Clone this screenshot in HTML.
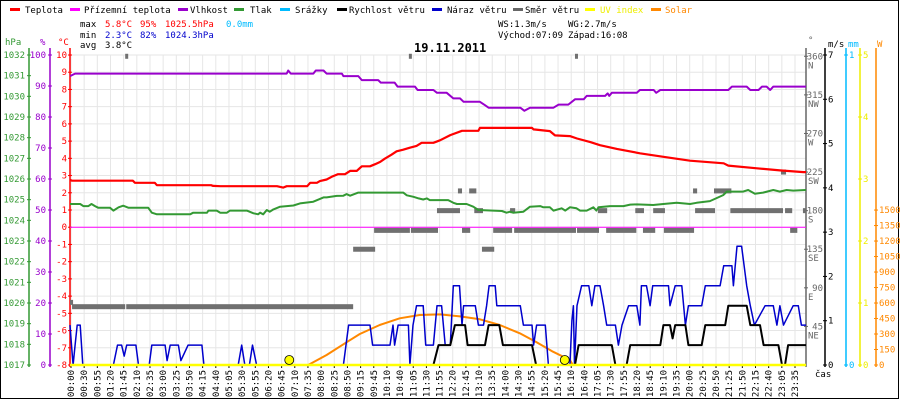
<!DOCTYPE html>
<html><head><meta charset="utf-8"><style>
html,body{margin:0;padding:0;background:#fff;}
svg{display:block;font-family:"DejaVu Sans Mono","Liberation Mono",monospace;}
</style></head><body>
<svg id="chart" width="900" height="400" viewBox="0 0 900 400" xmlns="http://www.w3.org/2000/svg">
<rect x="0.5" y="0.5" width="898" height="398" fill="#fff" stroke="#000"/>
<g id="grid"></g>
<g id="legend" font-size="9">
 <g><rect x="10" y="8" width="10" height="3" fill="#f00"/><text x="25" y="13">Teplota</text></g>
 <g><rect x="70" y="8" width="10" height="3" fill="#f0f"/><text x="84" y="13">Přízemní teplota</text></g>
 <g><rect x="178" y="8" width="10" height="3" fill="#90c"/><text x="190" y="13">Vlhkost</text></g>
 <g><rect x="234" y="8" width="10" height="3" fill="#393"/><text x="250" y="13">Tlak</text></g>
 <g><rect x="280" y="8" width="10" height="3" fill="#0bf"/><text x="295" y="13">Srážky</text></g>
 <g><rect x="337" y="8" width="10" height="3" fill="#000"/><text x="349" y="13">Rychlost větru</text></g>
 <g><rect x="432" y="8" width="10" height="3" fill="#00c"/><text x="447" y="13">Náraz větru</text></g>
 <g><rect x="513" y="8" width="10" height="3" fill="#666"/><text x="525" y="13">Směr větru</text></g>
 <g><rect x="585" y="8" width="10" height="3" fill="#ff0"/><text x="600" y="13" fill="#ee0">UV index</text></g>
 <g><rect x="651" y="8" width="10" height="3" fill="#f80"/><text x="665" y="13" fill="#f80">Solar</text></g>
</g>
<g id="stats" font-size="9">
 <text x="80" y="27">max</text><text x="105" y="27" fill="#f00">5.8°C</text><text x="140" y="27" fill="#f00">95%</text><text x="165" y="27" fill="#f00">1025.5hPa</text><text x="226" y="27" fill="#0bf">0.0mm</text>
 <text x="80" y="38">min</text><text x="105" y="38" fill="#00c">2.3°C</text><text x="140" y="38" fill="#00c">82%</text><text x="165" y="38" fill="#00c">1024.3hPa</text>
 <text x="80" y="48">avg</text><text x="105" y="48">3.8°C</text>
 <text x="498" y="27">WS:1.3m/s</text><text x="568" y="27">WG:2.7m/s</text>
 <text x="498" y="38">Východ:07:09</text><text x="568" y="38">Západ:16:08</text>
</g>
<text x="414" y="52" font-size="12" font-weight="bold">19.11.2011</text>
<g id="axes"></g>
<g id="series"></g>
</svg>
<script>
// ---- data ----
const xTickLabels = ["00:00","00:30","00:55","01:20","01:45","02:10","02:35","03:00","03:25","03:50","04:15","04:40","05:05","05:30","05:55","06:20","06:45","07:10","07:35","08:00","08:25","08:50","09:15","09:45","10:10","10:40","11:05","11:30","11:55","12:20","12:45","13:10","13:35","14:00","14:30","14:55","15:20","15:45","16:10","16:40","17:05","17:30","17:55","18:20","18:45","19:10","19:35","20:00","20:25","20:50","21:25","21:50","22:15","22:40","23:05","23:35"];
const tempTimes = [0,4,123,127,166,170,276,280,294,405,417,424,464,470,483,489,502,512,524,538,548,561,571,587,597,607,616,629,639,652,665,678,688,711,724,744,767,799,802,904,907,939,949,978,992,1018,1037,1070,1115,1161,1213,1279,1288,1344,1389,1435,1440];
const tempValues = [2.75,2.7,2.7,2.58,2.58,2.44,2.44,2.4,2.38,2.38,2.3,2.38,2.38,2.58,2.58,2.68,2.77,2.93,3.08,3.08,3.27,3.27,3.54,3.54,3.66,3.79,3.98,4.21,4.41,4.5,4.62,4.72,4.9,4.9,5.05,5.35,5.6,5.6,5.77,5.77,5.68,5.58,5.33,5.29,5.15,4.94,4.76,4.55,4.29,4.09,3.86,3.71,3.58,3.42,3.3,3.2,3.2];
const feelTimes = [0,1440];
const feelValues = [0,0];
const humTimes = [0,10,424,427,432,476,481,496,502,532,535,564,571,603,608,635,641,675,680,711,718,737,750,763,770,802,812,819,881,889,900,946,956,975,988,1005,1011,1047,1052,1055,1060,1109,1115,1142,1147,1155,1288,1295,1324,1331,1347,1354,1363,1370,1376,1440];
const humValues = [93.2,94,94,95,94,94,95,95,94,94,93.2,93.2,91.9,91.9,91.1,91.1,89.8,89.8,88.7,88.7,87.8,87.8,86,86,84.9,84.9,83.8,83,83,82,83,83,84,84,85.7,85.7,86.8,86.8,87.6,86.8,87.8,87.8,88.7,88.7,87.8,88.7,88.7,89.8,89.8,88.7,88.7,89.8,89.8,88.7,89.8,89.8];
const presTimes = [0,20,26,36,42,49,55,78,85,95,104,114,153,160,170,235,241,268,271,287,294,307,313,346,359,368,372,378,385,391,398,411,437,450,476,496,502,522,535,541,548,564,652,659,672,682,691,698,704,740,750,757,776,789,799,845,854,861,867,887,900,920,926,939,946,962,969,978,991,998,1011,1024,1030,1034,1057,1083,1096,1109,1141,1161,1187,1213,1226,1252,1278,1285,1317,1327,1340,1356,1376,1389,1402,1415,1440];
const presValues = [1024.79,1024.79,1024.69,1024.69,1024.79,1024.69,1024.61,1024.61,1024.47,1024.63,1024.71,1024.61,1024.61,1024.37,1024.29,1024.29,1024.37,1024.37,1024.47,1024.47,1024.37,1024.37,1024.47,1024.47,1024.34,1024.29,1024.37,1024.29,1024.5,1024.42,1024.53,1024.66,1024.72,1024.82,1024.9,1025.11,1025.11,1025.18,1025.19,1025.27,1025.19,1025.34,1025.34,1025.21,1025.14,1025.06,1025.01,1025.06,1024.98,1024.98,1024.85,1024.79,1024.79,1024.66,1024.5,1024.45,1024.37,1024.42,1024.37,1024.42,1024.66,1024.69,1024.63,1024.63,1024.47,1024.58,1024.47,1024.63,1024.58,1024.47,1024.47,1024.63,1024.47,1024.63,1024.69,1024.69,1024.76,1024.77,1024.74,1024.79,1024.85,1024.79,1024.85,1024.93,1025.22,1025.39,1025.39,1025.47,1025.29,1025.34,1025.47,1025.39,1025.47,1025.44,1025.47];
const gustTimes = [0,3,6,10,14,20,25,85,93,101,106,111,129,134,155,160,186,190,196,212,217,231,258,262,329,336,342,351,357,365,535,545,587,592,626,632,635,642,662,665,671,678,691,696,711,718,727,734,744,750,762,767,770,793,799,809,815,820,832,835,881,887,904,907,913,930,936,978,982,985,987,992,1001,1015,1021,1027,1037,1044,1050,1067,1073,1080,1093,1109,1115,1118,1128,1135,1140,1171,1174,1184,1197,1204,1210,1236,1243,1272,1279,1295,1298,1305,1314,1324,1331,1339,1360,1376,1383,1389,1396,1415,1425,1431,1440];
const gustValues = [0.9,0.45,0,0.45,0.9,0.9,0,0,0.45,0.45,0.2,0.45,0.45,0,0,0.45,0.45,0.1,0.45,0.45,0.1,0.45,0.45,0,0,0.45,0,0,0.45,0,0,0.9,0.9,0.45,0.45,0.9,0.45,0.9,0.9,0,0.9,1.34,1.34,0.45,0.45,1.34,1.34,0.45,0.45,1.79,1.79,0.9,1.34,1.34,0.9,0.9,1.34,1.79,1.79,1.34,1.34,0.9,0.9,0.45,0.9,0.9,0,0,1.0,1.34,0,1.34,1.79,1.79,1.34,1.79,1.79,1.34,0.9,0.9,0.45,0.9,1.34,1.34,0.9,1.79,1.79,1.34,1.79,1.79,1.34,1.79,1.79,0.9,1.34,1.34,1.79,1.79,2.24,2.24,1.79,2.68,2.68,1.79,1.34,0.9,1.34,1.34,0.9,1.34,0.9,1.34,1.34,0.9,0.9];
const windTimes = [0,711,721,744,753,773,778,812,819,840,847,904,912,988,995,1060,1067,1089,1096,1155,1161,1174,1179,1184,1204,1210,1236,1243,1282,1288,1324,1331,1350,1357,1386,1393,1399,1405,1440];
const windValues = [0,0,0.45,0.45,0.9,0.9,0.45,0.45,0.9,0.9,0.45,0.45,0,0,0.45,0.45,0,0,0.45,0.45,0.9,0.9,0.6,0.9,0.9,0.45,0.45,0.9,0.9,1.34,1.34,0.9,0.9,0.45,0.45,0,0,0.45,0.45];
const dirStart = [0,4,110,554,595,667,718,759,767,781,791,806,828,861,869,992,1033,1049,1106,1121,1141,1162,1219,1223,1260,1292,1399,1409,1434,1391,108,663,988];
const dirEnd =   [6,108,554,597,665,720,763,767,783,795,808,830,865,871,990,1035,1051,1108,1123,1145,1164,1221,1227,1262,1294,1395,1413,1423,1440,1401,112,667,992];
const dirValues = [73,68,68,135,157,157,180,203,157,203,180,135,157,180,157,157,180,157,180,157,180,157,203,180,203,180,180,157,180,225,360,360,360];
const solarTimes = [466,502,541,567,606,645,684,724,763,802,841,880,913,945,978,984];
const solarValues = [0,97,220,300,387,452,484,490,470,442,387,307,220,129,48,0];
const uvTimes = [0,1440];
const uvValues = [0,0];
const rainTimes = [0,1440];
const rainValues = [0,0];
const sunEvents = [429,968];
const tempTicks = [10,9,8,7,6,5,4,3,2,1,0,-1,-2,-3,-4,-5,-6,-7,-8];
const presTicks = [1032,1031,1030,1029,1028,1027,1026,1025,1024,1023,1022,1021,1020,1019,1018,1017];
const humTicks = [100,90,80,70,60,50,40,30,20,10,0];
const dirTicks = [360,315,270,225,180,135,90,45];
const dirNames = ["N","NW","W","SW","S","SE","E","NE"];
const msTicks = [7,6,5,4,3,2,1,0];
const uvTicks = [5,4,3,2,1,0];
const wTicks = [1500,1350,1200,1050,900,750,600,450,300,150,0];

// ---- scales ----
const X0=70, X1=806, Y0=55, Y1=365;
const xS = m => X0 + m*(X1-X0)/1440;
const yT = v => Y0 + (10-v)*(Y1-Y0)/18;
const yP = h => Y0 + (1032-h)*(Y1-Y0)/15;
const yH = p => Y0 + (100-p)*(Y1-Y0)/100;
const yD = d => Y1 - d*(Y1-Y0)/361.5;
const yM = v => Y1 - v*(Y1-Y0)/7;
const yU = v => Y1 - v*(Y1-Y0)/5;
const yW = w => Y1 - w*0.1033;
const yR = v => Y1 - v*(Y1-Y0);
const NS="http://www.w3.org/2000/svg";
function mk(tag, attrs, parent, txt){const e=document.createElementNS(NS,tag);for(const k in attrs)e.setAttribute(k,attrs[k]);if(txt!==undefined)e.textContent=txt;parent.appendChild(e);return e;}
const grid=document.getElementById('grid'), axes=document.getElementById('axes'), series=document.getElementById('series');

// grid
tempTicks.forEach(v=>{const l=mk('line',{x1:X0,x2:X1,y1:yT(v),y2:yT(v),stroke:'#e6e6e6','stroke-width':1},grid);

});
const nX = xTickLabels.length;
const xTickPos = i => 71 + i*(795-71)/(nX-1);
xTickLabels.forEach((t,i)=>{const x=xTickPos(i);
const l=mk('line',{x1:x,x2:x,y1:Y0,y2:Y1,stroke:'#e6e6e6','stroke-width':1},grid);


const tk=mk('line',{x1:x,x2:x,y1:Y1,y2:Y1+3,stroke:'#000'},axes);


const tx=mk('text',{x:0,y:0,'font-size':9,'text-anchor':'end',transform:`translate(${x+3},370) rotate(-90)`},axes,t);

});

// left axes
function vAxis(x,color,name){const l=mk('line',{x1:x,x2:x,y1:48,y2:Y1+2,stroke:color,'stroke-width':1.5},axes);

}
vAxis(29,'#393','hpa-axis'); vAxis(50,'#90c','humidity-axis'); vAxis(70,'#f00','celsius-axis');
vAxis(806,'#666','direction-axis'); vAxis(825,'#000','wind-axis'); vAxis(846,'#0bf','rain-axis'); vAxis(860,'#ee0','uv-axis'); vAxis(876,'#f80','solar-axis');
function tickLbl(x,y,anchor,color,txt,name){const t=mk('text',{x:x,y:y+3,'font-size':9,'text-anchor':anchor,fill:color},axes,txt);

}
function tickMark(x,y,color){const t=mk('line',{x1:x-2,x2:x+2,y1:y,y2:y,stroke:color},axes);

}
presTicks.forEach(h=>{tickMark(29,yP(h),'#393');tickLbl(25,yP(h),'end','#393',String(h),'hpa-tick-label');});
humTicks.forEach(p=>{tickMark(50,yH(p),'#90c');tickLbl(46,yH(p),'end','#90c',String(p),'humidity-tick-label');});
tempTicks.forEach(v=>{tickMark(70,yT(v),'#f00');tickLbl(67,yT(v),'end','#f00',String(v),'celsius-tick-label');});
dirTicks.forEach((d,i)=>{tickMark(806,yD(d),'#666');tickLbl(823,yD(d),'end','#666',String(d),'direction-tick-label');tickLbl(808,yD(d)+9,'start','#666',dirNames[i],'direction-name-label');});
msTicks.forEach(v=>{tickMark(825,yM(v),'#000');tickLbl(828,yM(v),'start','#000',String(v),'wind-tick-label');});
[1,0].forEach(v=>{tickMark(846,yR(v),'#0bf');tickLbl(849,yR(v),'start','#0bf',String(v),'rain-tick-label');});
uvTicks.forEach(v=>{tickMark(860,yU(v),'#ee0');tickLbl(863,yU(v),'start','#ee0',String(v),'uv-tick-label');});
wTicks.forEach(v=>{tickMark(876,yW(v),'#f80');tickLbl(879,yW(v),'start','#f80',String(v),'solar-tick-label');});
[[5,45,'#393','hPa'],[40,45,'#90c','%'],[58,45,'#f00','°C'],[808,43,'#666','°'],[828,47,'#000','m/s'],[848,47,'#0bf','mm'],[877,47,'#f80','W'],[815,377,'#000','čas']].forEach(a=>{
const t=mk('text',{x:a[0],y:a[1],'font-size':9,fill:a[2]},axes,a[3]);

});

// series
function line(times,vals,ys,color,w,name){const pts=times.map((t,i)=>xS(t).toFixed(1)+','+ys(vals[i]).toFixed(1)).join(' ');
const p=mk('polyline',{points:pts,fill:'none',stroke:color,'stroke-width':w,'stroke-linejoin':'round'},series);

}
dirStart.forEach((s,i)=>{const r=mk('rect',{x:xS(s),y:yD(dirValues[i])-2.5,width:Math.max(3,xS(dirEnd[i])-xS(s)),height:5,fill:'#707070'},series);

});
line(feelTimes,feelValues,yT,'#f0f',1,'feels-like-line');
line(rainTimes,rainValues,yR,'#0bf',2,'rain-line');
line(humTimes,humValues,yH,'#90c',2,'humidity-line');
line(presTimes,presValues,yP,'#393',2,'pressure-line');
line(tempTimes,tempValues,yT,'#f00',2.2,'temperature-line');
line(solarTimes,solarValues,yW,'#f80',2,'solar-line');
line(gustTimes,gustValues,yM,'#00c',1.5,'wind-gust-line');
line(windTimes,windValues,yM,'#000',2,'wind-speed-line');
line(uvTimes,uvValues,yU,'#ff0',2.5,'uv-line');
sunEvents.forEach((m,i)=>{const c=mk('circle',{cx:xS(m),cy:360,r:4.5,fill:'#ff0',stroke:'#000','stroke-width':0.8},series);

});
</script>
</body></html>
